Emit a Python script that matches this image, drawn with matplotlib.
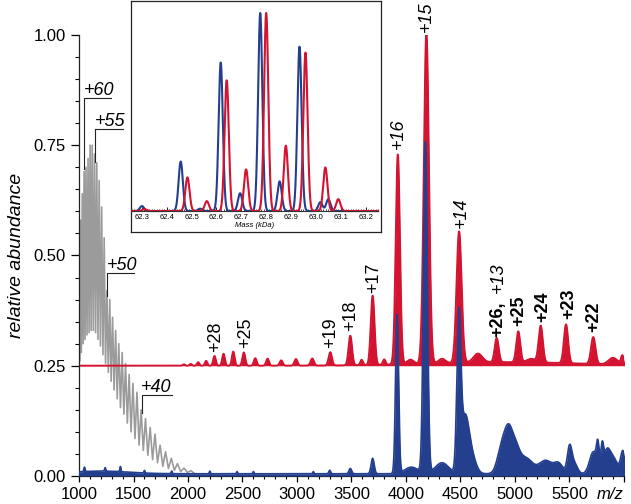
import numpy as np
import matplotlib
matplotlib.use("Agg")
import matplotlib.pyplot as plt
from matplotlib.ticker import MultipleLocator

plt.rcParams['font.family'] = ['Liberation Sans', 'DejaVu Sans']

BLUE = '#243f8e'
RED = '#d3132f'
GRAY = '#9b9b9b'

# grey trace: charge-state comb (m/z of each peak, peak top, valley after it)
gray_mz = [981, 997, 1013, 1030, 1047, 1064, 1083, 1102, 1121, 1142, 1163, 1185,
           1208, 1231, 1256, 1282, 1308, 1336, 1365, 1396, 1427, 1460, 1495, 1532,
           1570, 1610, 1653, 1697, 1744, 1794, 1847, 1903, 1963, 2026]
gray_top = [0.45, 0.50, 0.58, 0.64, 0.69, 0.70, 0.72, 0.75, 0.75, 0.73, 0.71, 0.67,
            0.61, 0.54, 0.42, 0.40, 0.36, 0.33, 0.30, 0.28, 0.255, 0.23, 0.21, 0.19,
            0.15, 0.13, 0.11, 0.095, 0.07, 0.055, 0.04, 0.028, 0.018, 0.012]
gray_valley = [0.24, 0.26, 0.28, 0.30, 0.31, 0.32, 0.325, 0.33, 0.33, 0.325, 0.31, 0.295,
               0.275, 0.255, 0.235, 0.215, 0.195, 0.175, 0.155, 0.14, 0.12, 0.10, 0.085, 0.07,
               0.058, 0.047, 0.037, 0.03, 0.022, 0.017, 0.013, 0.01, 0.008, 0.006]

# red trace (offset to 0.25): peak m/z, height above offset, width
red_offset = 0.25
red_mz = [1962, 2026, 2093, 2166, 2243, 2326, 2415, 2512, 2617, 2730, 2855, 2990,
          3140, 3305, 3489, 3593, 3694, 3800, 3925, 4040, 4187, 4330, 4487, 4660,
          4832, 5030, 5150, 5236, 5468, 5718, 5900, 5985, 4900]
red_h = [0.003, 0.004, 0.008, 0.011, 0.022, 0.027, 0.032, 0.030, 0.017, 0.016, 0.012, 0.015,
         0.016, 0.030, 0.067, 0.012, 0.157, 0.012, 0.476, 0.010, 0.75, 0.010, 0.298, 0.02,
         0.055, 0.07, 0.008, 0.083, 0.088, 0.061, 0.015, 0.02, 0.008]
red_w = [11, 11, 11, 11, 12, 12, 12, 13, 13, 13, 14, 14,
         15, 15, 16, 12, 17, 12, 19, 30, 23, 30, 23, 40,
         18, 18, 40, 19, 19, 20, 40, 12, 700]

# blue trace
blue_offset = 0.005
blue_mz = [1050, 1200, 1240, 1380, 1600, 1850, 2200, 2450, 2600, 3150, 3300, 3489, 3694,
           3918, 4050, 4178, 4330, 4485, 4540, 4600, 4880, 4940, 5000, 5100, 5280, 5400,
           5500, 5540, 5720, 5760, 5800, 5840, 5900, 5990]
blue_h = [0.01, 0.006, 0.008, 0.012, 0.006, 0.006, 0.006, 0.005, 0.005, 0.005, 0.008, 0.012, 0.035,
          0.36, 0.015, 0.75, 0.025, 0.34, 0.12, 0.04, 0.06, 0.075, 0.055, 0.035, 0.03, 0.022,
          0.055, 0.025, 0.05, 0.05, 0.05, 0.045, 0.035, 0.05]
blue_w = [5, 250, 5, 5, 5, 5, 5, 5, 5, 5, 8, 12, 14,
          14, 60, 18, 60, 18, 35, 40, 40, 35, 40, 60, 60, 40,
          20, 30, 35, 12, 12, 30, 40, 20]

# inset: deconvoluted masses (kDa) and relative heights
inset_blue_kda = [62.300, 62.456, 62.534, 62.617, 62.695, 62.776, 62.854, 62.934, 63.018, 63.050]
inset_blue_h = [0.025, 0.25, 0.012, 0.75, 0.09, 1.0, 0.15, 0.83, 0.045, 0.06]
inset_red_kda = [62.310, 62.483, 62.561, 62.641, 62.719, 62.800, 62.879, 62.958, 63.038, 63.090]
inset_red_h = [0.01, 0.17, 0.05, 0.66, 0.21, 1.0, 0.33, 0.80, 0.22, 0.06]
inset_width = 0.0085

# labels
bracket_labels = [('+60', 1046, 0.695, 0.857, 1291),
                  ('+55', 1147, 0.711, 0.786, 1406),
                  ('+50', 1260, 0.4075, 0.4606, 1505),
                  ('+40', 1575, 0.143, 0.1825, 1850)]
peak_labels = [('+28', 2252, 0.282, 'normal', 'normal'),
               ('+25', 2532, 0.291, 'normal', 'normal'),
               ('+19', 3312, 0.291, 'normal', 'normal'),
               ('+18', 3494, 0.328, 'normal', 'normal'),
               ('+17', 3700, 0.415, 'normal', 'normal'),
               ('+16', 3934, 0.741, 'normal', 'italic'),
               ('+15', 4190, 1.006, 'normal', 'italic'),
               ('+14', 4505, 0.563, 'normal', 'italic'),
               ('+26,', 4844, 0.316, 'bold', 'normal'),
               ('+13', 4848, 0.416, 'normal', 'italic'),
               ('+25', 5037, 0.339, 'bold', 'normal'),
               ('+24', 5252, 0.350, 'bold', 'normal'),
               ('+23', 5495, 0.355, 'bold', 'normal'),
               ('+22', 5725, 0.327, 'bold', 'normal')]


def spectrum(x, centers, heights, widths):
    y = np.zeros_like(x)
    for c, h, w in zip(centers, heights, widths):
        y += h * np.exp(-0.5 * ((x - c) / w) ** 2)
    return y


def comb(mz, top, valley):
    xs = [mz[0] - 8]
    ys = [valley[0]]
    for i in range(len(mz)):
        xs.append(mz[i])
        ys.append(top[i])
        nxt = mz[i + 1] if i + 1 < len(mz) else mz[i] + (mz[i] - mz[i - 1])
        xs.append((mz[i] + nxt) / 2)
        ys.append(valley[i])
    return xs, ys


fig = plt.figure(figsize=(6.31, 5.04), dpi=100)
ax = fig.add_axes([0.1252, 0.0556, 0.8637, 0.8750])

x = np.linspace(990, 6010, 9000)

gx, gy = comb(gray_mz, gray_top, gray_valley)
ax.plot(gx, gy, color=GRAY, lw=1.2, zorder=1)

red_y = red_offset + spectrum(x, red_mz, red_h, red_w)
ax.fill_between(x, red_offset, red_y, color=RED, lw=0, zorder=2)
ax.plot(x, red_y, color=RED, lw=1.4, zorder=2)

blue_y = blue_offset + spectrum(x, blue_mz, blue_h, blue_w)
ax.fill_between(x, 0.0, blue_y, color=BLUE, lw=0, zorder=3)
ax.plot(x, blue_y, color=BLUE, lw=1.2, zorder=3)

for txt, px, ptop, ly, lend in bracket_labels:
    ax.plot([px, px, lend], [ptop, ly, ly], color='#222222', lw=0.8, zorder=4)
    ax.text(px - 5, ly + 0.007, txt, fontsize=13, style='italic',
            ha='left', va='baseline', zorder=5)

for txt, px, yb, wt, st in peak_labels:
    ax.text(px, yb, txt, rotation=90, fontsize=13, fontweight=wt, style=st,
            ha='center', va='bottom', zorder=5)

ax.set_xlim(1000, 6000)
ax.set_ylim(0, 1.0)
ax.xaxis.set_minor_locator(MultipleLocator(100))
ax.yaxis.set_minor_locator(MultipleLocator(0.05))
xt = np.arange(1000, 6001, 500)
ax.set_xticks(xt)
ax.set_xticklabels([str(v) for v in xt[:-1]] + ['m/z'])
mz_label = ax.get_xticklabels()[-1]
mz_label.set_style('italic')
mz_label.set_horizontalalignment('right')
ax.set_yticks([0, 0.25, 0.5, 0.75, 1.0])
ax.set_yticklabels(['0.00', '0.25', '0.50', '0.75', '1.00'])
ax.tick_params(axis='x', which='major', length=4, width=0.9, labelsize=12, pad=4)
ax.tick_params(axis='x', which='minor', length=2.5, width=0.8)
ax.tick_params(axis='y', which='major', length=5.5, width=0.9, labelsize=12, pad=4)
ax.tick_params(axis='y', which='minor', length=3, width=0.8)
for s in ['top', 'right']:
    ax.spines[s].set_visible(False)
for s in ['left', 'bottom']:
    ax.spines[s].set_linewidth(0.9)
    ax.spines[s].set_color('#222222')
ax.set_ylabel('relative abundance', fontsize=14, style='italic')
ax.yaxis.set_label_coords(-0.10, 0.5)

# inset frame
box = fig.add_axes([0.2076, 0.5397, 0.3962, 0.4583], zorder=3)
box.set_xticks([])
box.set_yticks([])
for s in box.spines.values():
    s.set_linewidth(0.9)
    s.set_color('#222222')

ins = fig.add_axes([0.2092, 0.5813, 0.3899, 0.3929], zorder=4)
ins.patch.set_alpha(0)
xi = np.linspace(62.26, 63.25, 2000)
ins.plot(xi, spectrum(xi, inset_blue_kda, inset_blue_h, [inset_width] * len(inset_blue_h)),
         color=BLUE, lw=1.5, clip_on=False)
ins.plot(xi, spectrum(xi, inset_red_kda, inset_red_h, [inset_width] * len(inset_red_h)),
         color=RED, lw=1.5, clip_on=False)
ins.set_xlim(62.26, 63.25)
ins.set_ylim(0, 1.0)
for s in ['top', 'right', 'left']:
    ins.spines[s].set_visible(False)
ins.spines['bottom'].set_linewidth(0.8)
ins.spines['bottom'].set_color('#333333')
ins.set_yticks([])
ins.set_xticks(np.round(np.arange(62.3, 63.25, 0.1), 1))
ins.xaxis.set_minor_locator(MultipleLocator(0.01))
ins.tick_params(axis='x', which='major', direction='in', length=3, width=0.6,
                labelsize=5.5, pad=2)
ins.tick_params(axis='x', which='minor', direction='in', length=1.6, width=0.5)
ins.set_xlabel('Mass (kDa)', fontsize=5.5, style='italic', labelpad=1)

fig.savefig('out.png', dpi=100)
